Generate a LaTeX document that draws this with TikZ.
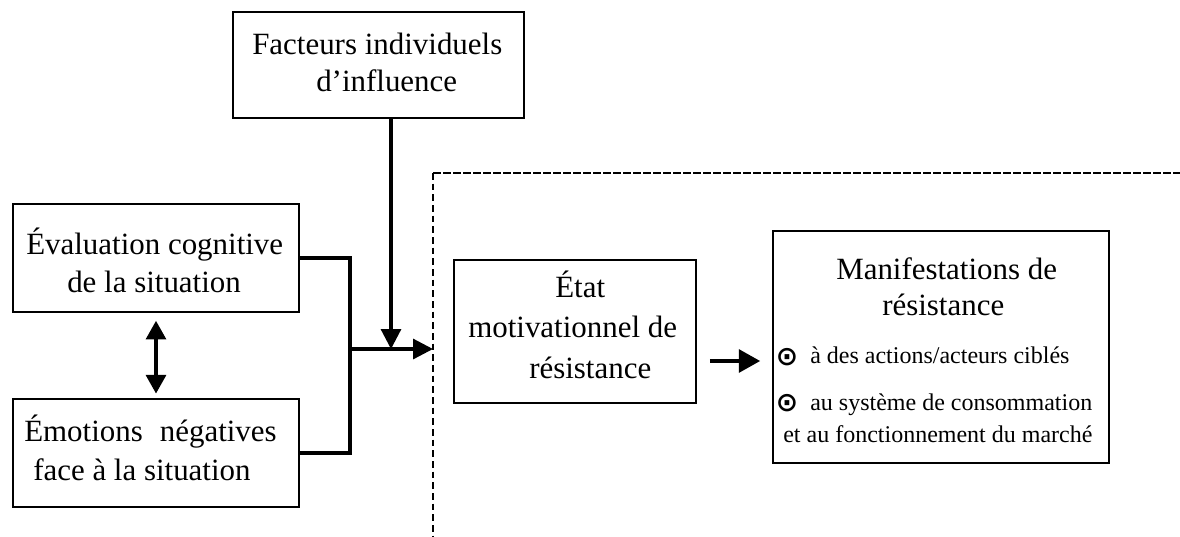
\documentclass[tikz,border=0pt]{standalone}
\usepackage{fontspec}
\setmainfont{Liberation Serif}
\newfontfamily\dejavu{DejaVu Sans}
\usetikzlibrary{arrows.meta,fit,calc}
\begin{document}
\begin{tikzpicture}[x=0.75pt,y=-0.75pt,
  box/.style={draw, line width=1.2pt, inner sep=0pt},
  big/.style={font=\fontsize{23.2}{28}\selectfont, anchor=base west, inner sep=0pt},
  small/.style={font=\fontsize{18}{22}\selectfont, anchor=base west, inner sep=0pt},
  bul/.style={font=\dejavu\bfseries\fontsize{20}{20}\selectfont, inner sep=0pt},
  conn/.style={line width=2.4pt, line join=miter},
  tip/.style={-{Triangle[length=15pt,width=15pt]}},
]
\useasboundingbox (0,0) rectangle (1180,536);

% boxes
\node[box, fit={(233,12)(524,118)}] (fact) {};
\node[box, fit={(13,204)(299,312)}] (eval) {};
\node[box, fit={(13,399)(299,507)}] (emo) {};
\node[box, fit={(454,260)(696,403)}] (etat) {};
\node[box, fit={(773,231)(1109,463)}] (mani) {};

% texts
\node[big] (f1) at (252,54) {Facteurs individuels};
\node[big] (f2) at (316,91) {d’influence};
\node[big] (e1) at (26,254) {Évaluation cognitive};
\node[big] (e2) at (67,292) {de la situation};
\node[big] (m1) at (24,441) {Émotions\hspace{0.55em}négatives};
\node[big] (m2) at (33,480) {face à la situation};
\node[big] (s1) at (555,297) {État};
\node[big] (s2) at (468,337) {motivationnel de};
\node[big] (s3) at (529,378) {résistance};
\node[big] (h1) at (836,279) {Manifestations de};
\node[big] (h2) at (882,315) {résistance};
\node[bul] (b1) at (787,357) {⊙};
\node[small] (t1) at (810,363) {à des actions/acteurs ciblés};
\node[bul] (b2) at (787,403) {⊙};
\node[small] (t2) at (810,410) {au système de consommation};
\node[small] (t3) at (783,442) {et au fonctionnement du marché};

% dashed frame
\coordinate (frTL) at (433,173);
\coordinate (frTR) at (1180,173);
\coordinate (frBL) at (433,536);
\draw[line width=1.6pt, dash pattern=on 6pt off 1.5pt] (frTL) -- (frTR);
\draw[line width=0.8pt, dash pattern=on 5pt off 3pt] (frTL) -- (frBL);

% connectors
\coordinate (join) at (350,349);
\coordinate (frIn) at (433,349);
\coordinate (down) at (391,349);
\draw[conn] (eval.east) -| (join) |- (emo.east);
\draw[conn,tip] (join) -- (frIn);
\draw[conn,tip] (fact.south -| down) -- (down);
\draw[conn,{Triangle[length=14pt,width=15pt]}-{Triangle[length=14pt,width=15pt]}, shorten <=6pt, shorten >=3.5pt] (eval.south) -- (emo.north);

\coordinate (a1) at ($(etat.east)+(13,29.5)$);
\draw[line width=3pt, -{Triangle[length=16pt,width=17pt]}, shorten >=9pt] (a1) -- (a1 -| mani.west);
\end{tikzpicture}
\end{document}
